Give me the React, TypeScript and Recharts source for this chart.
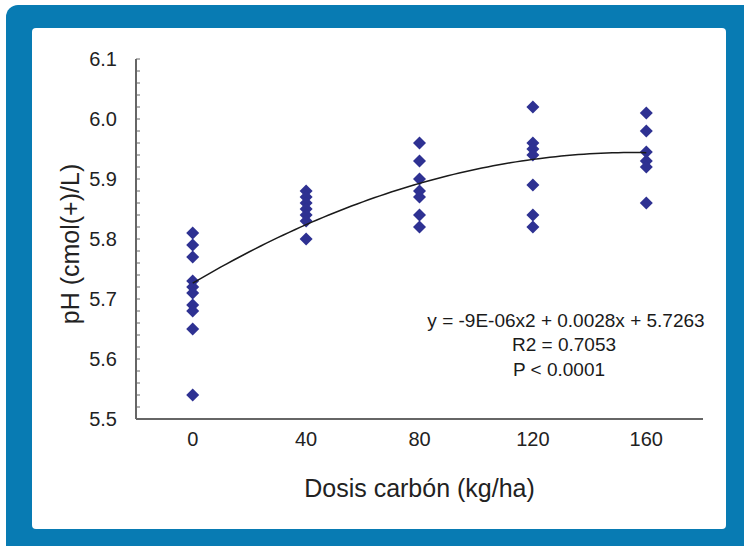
import React from 'react';
import { ScatterChart, Scatter, XAxis, YAxis, Customized } from 'recharts';

// Carbon dose (kg/ha) and soil pH readings per dose
const doses = [0, 40, 80, 120, 160];
const ph0 = [5.81, 5.79, 5.77, 5.73, 5.72, 5.71, 5.69, 5.68, 5.65, 5.54];
const ph40 = [5.88, 5.87, 5.86, 5.85, 5.84, 5.83, 5.8];
const ph80 = [5.96, 5.93, 5.9, 5.88, 5.87, 5.84, 5.82];
const ph120 = [6.02, 5.96, 5.95, 5.94, 5.89, 5.84, 5.82];
const ph160 = [6.01, 5.98, 5.945, 5.93, 5.92, 5.86];

// Quadratic trend line coefficients (y = a x^2 + b x + c)
const trendA = -9e-6;
const trendB = 0.0028;
const trendC = 5.7263;

const xTicks = [0, 40, 80, 120, 160];
const yMajorTicks = [5.5, 5.6, 5.7, 5.8, 5.9, 6.0, 6.1];
const yMinorStep = 0.02;

const equationLines = ['y = -9E-06x2 + 0.0028x + 5.7263', 'R2 = 0.7053', 'P < 0.0001'];

const groups = [ph0, ph40, ph80, ph120, ph160];
const points = groups.flatMap((vals, i) => vals.map((v) => ({ x: doses[i], y: v })));

const trendXs: number[] = [];
for (let x = doses[0]; x <= doses[doses.length - 1]; x += 2) trendXs.push(x);
const trend = trendXs.map((x) => ({ x, y: trendA * x * x + trendB * x + trendC }));

const yTicks: number[] = [];
for (let v = 5.5; v <= 6.1 + 1e-9; v += yMinorStep) yTicks.push(Math.round(v * 100) / 100);

const FONT = '"Liberation Sans", Arial, sans-serif';
const BLUE = '#087BB3';
const MARK = '#2E3192';
const AXIS = '#666666';

const Diamond = (props: any) => {
  const { cx, cy } = props;
  if (cx == null || cy == null) return <g />;
  const r = 6.5;
  return (
    <polygon
      points={`${cx},${cy - r} ${cx + r},${cy} ${cx},${cy + r} ${cx - r},${cy}`}
      fill={MARK}
    />
  );
};

const Equation = () => (
  <g fontFamily={FONT} fontSize={19} fill="#1a1a1a">
    <text x={566} y={327} textAnchor="middle">{equationLines[0]}</text>
    <text x={564} y={351} textAnchor="middle">{equationLines[1]}</text>
    <text x={559} y={376} textAnchor="middle">{equationLines[2]}</text>
  </g>
);

const YTitle = (props: any) => {
  const vb = props.viewBox || {};
  const cx = (vb.x ?? 52) + 18;
  const cy = (vb.y ?? 59) + (vb.height ?? 360) / 2 + 5;
  return (
    <text
      x={cx}
      y={cy}
      transform={`rotate(-90 ${cx} ${cy})`}
      textAnchor="middle"
      dominantBaseline="central"
      fill="#222"
      fontSize={25}
      fontFamily={FONT}
    >
      pH (cmol(+)/L)
    </text>
  );
};

const fmtY = (v: number) =>
  yMajorTicks.some((m) => Math.abs(m - v) < 1e-6) ? v.toFixed(1) : '';

export default function App() {
  return (
    <div style={{ position: 'absolute', left: 0, top: 0, width: 744, height: 546, overflow: 'hidden', background: '#fff' }}>
      <div style={{ position: 'absolute', left: 6, top: 5, width: 760, height: 560, background: BLUE, borderRadius: 12 }} />
      <div style={{ position: 'absolute', left: 32, top: 28, width: 694, height: 501, background: '#fff', borderRadius: 4 }} />
      <div style={{ position: 'absolute', left: 0, top: 0 }}>
        <ScatterChart width={744} height={546} margin={{ top: 59, right: 41, bottom: 67, left: 52 }}>
          <XAxis
            type="number"
            dataKey="x"
            domain={[-20, 180]}
            ticks={xTicks}
            interval={0}
            tickLine={false}
            tickSize={0}
            tickMargin={13}
            axisLine={{ stroke: AXIS, strokeWidth: 2 }}
            tick={{ fill: '#222', fontSize: 20, fontFamily: FONT }}
            height={60}
            label={{ value: 'Dosis carbón (kg/ha)', position: 'bottom', offset: 0, fill: '#222', fontSize: 25, fontFamily: FONT }}
          />
          <YAxis
            type="number"
            dataKey="y"
            domain={[5.5, 6.1]}
            ticks={yTicks}
            interval={0}
            tickSize={-4}
            tickMargin={23}
            tickLine={{ stroke: AXIS, strokeWidth: 1 }}
            tickFormatter={fmtY}
            axisLine={{ stroke: AXIS, strokeWidth: 2 }}
            tick={{ fill: '#222', fontSize: 20, fontFamily: FONT }}
            width={84}
            label={{ content: <YTitle /> }}
          />
          <Scatter data={points} shape={<Diamond />} isAnimationActive={false} />
          <Scatter
            data={trend}
            line={{ stroke: '#1a1a1a', strokeWidth: 1.5 }}
            lineType="joint"
            shape={() => <g />}
            isAnimationActive={false}
          />
          <Customized component={Equation} />
        </ScatterChart>
      </div>
    </div>
  );
}
